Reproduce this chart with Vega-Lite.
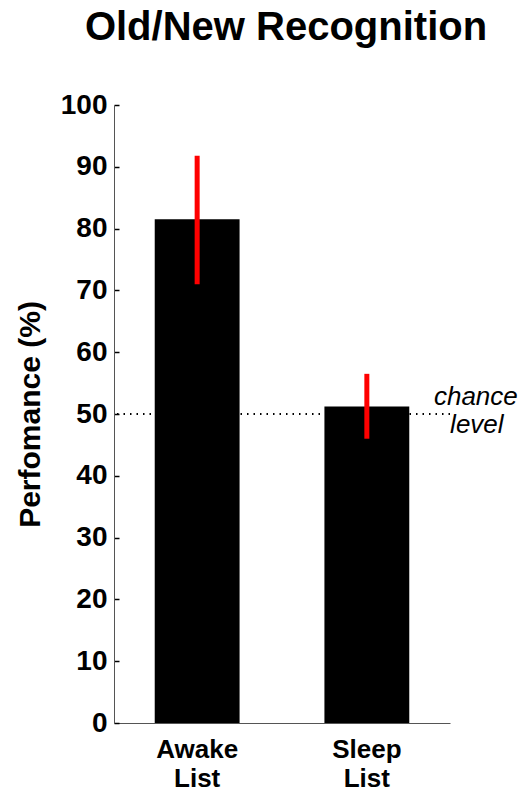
{
  "$schema": "https://vega.github.io/schema/vega-lite/v6.json",
  "width": 336,
  "height": 618,
  "autosize": {"type": "none"},
  "padding": {"left": 114, "top": 105, "right": 73, "bottom": 68},
  "background": "white",
  "config": {"view": {"stroke": null}},
  "title": {"text": "Old/New Recognition", "font": "Liberation Sans", "fontSize": 40, "fontWeight": "bold", "color": "black", "anchor": "middle", "offset": 43, "dx": 4},
  "data": {"values": [
    {"group": "Awake List", "perf": 81.5, "lo": 71.0, "hi": 91.8},
    {"group": "Sleep List", "perf": 51.2, "lo": 46.0, "hi": 56.5}
  ]},
  "encoding": {
    "x": {"field": "group", "type": "nominal", "sort": null,
      "scale": {"paddingInner": 0.5, "paddingOuter": 0.24},
      "axis": {"title": null, "labelAngle": 0, "ticks": false, "domainColor": "#555", "domainWidth": 1,
        "labelExpr": "split(datum.label, ' ')", "labelFont": "Liberation Sans", "labelFontSize": 26, "labelFontWeight": "bold", "labelColor": "black", "labelLineHeight": 29, "labelPadding": 13}}
  },
  "layer": [
    {
      "data": {"values": [{"chance": 50}]},
      "mark": {"type": "rule", "strokeDash": [1.5, 5], "strokeWidth": 2, "color": "black"},
      "encoding": {"x": null, "y": {"field": "chance", "type": "quantitative"}}
    },
    {
      "mark": {"type": "bar", "color": "black"},
      "encoding": {
        "y": {"field": "perf", "type": "quantitative", "scale": {"domain": [0, 100]},
          "axis": {"title": "Perfomance (%)", "values": [0, 10, 20, 30, 40, 50, 60, 70, 80, 90, 100], "grid": false,
            "tickSize": -5, "labelPadding": 12, "tickColor": "black", "tickWidth": 1.5, "domainColor": "#555", "domainWidth": 1,
            "labelFont": "Liberation Sans", "labelFontSize": 28, "labelFontWeight": "bold", "labelColor": "black",
            "titleFont": "Liberation Sans", "titleFontSize": 30, "titleFontWeight": "bold", "titleColor": "black", "titlePadding": 15}}
      }
    },
    {
      "mark": {"type": "rule", "color": "#ff0000", "strokeWidth": 5},
      "encoding": {
        "y": {"field": "lo", "type": "quantitative"},
        "y2": {"field": "hi"}
      }
    },
    {
      "data": {"values": [{"group": "Sleep List", "chance": 50, "t": "chance"}]},
      "mark": {"type": "text", "font": "Liberation Sans", "fontStyle": "italic", "fontSize": 26, "color": "black", "align": "center", "baseline": "alphabetic", "dx": 109, "dy": -9},
      "encoding": {"y": {"field": "chance", "type": "quantitative"}, "text": {"field": "t"}}
    },
    {
      "data": {"values": [{"group": "Sleep List", "chance": 50, "t": "level"}]},
      "mark": {"type": "text", "font": "Liberation Sans", "fontStyle": "italic", "fontSize": 26, "color": "black", "align": "center", "baseline": "alphabetic", "dx": 110, "dy": 19},
      "encoding": {"y": {"field": "chance", "type": "quantitative"}, "text": {"field": "t"}}
    }
  ]
}
